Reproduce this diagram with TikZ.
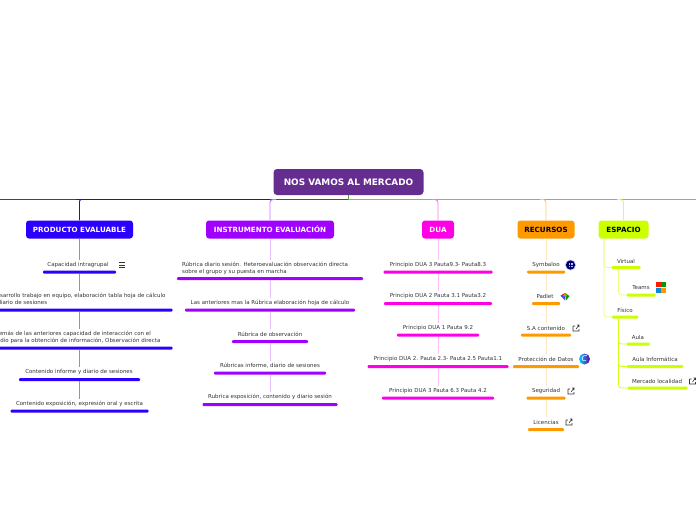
\documentclass[tikz,border=0pt]{standalone}
\usepackage{fontspec}
\setmainfont{DejaVu Sans}
\definecolor{cpurple}{HTML}{662D91}
\definecolor{cblue}{HTML}{2B00FF}
\definecolor{cviolet}{HTML}{A000FF}
\definecolor{cmag}{HTML}{FF00E6}
\definecolor{corange}{HTML}{FF9900}
\definecolor{clime}{HTML}{CCFF00}
\definecolor{ctext}{HTML}{333333}
\definecolor{ctrunkg}{HTML}{55E020}
\tikzset{
 root/.style={fill=cpurple,rounded corners=3.5pt,text=white,font=\fontsize{8.9}{10}\selectfont\bfseries,minimum width=150pt,minimum height=26pt,inner sep=0pt},
 mainbox/.style={fill=#1,rounded corners=3pt,font=\fontsize{7.15}{8}\selectfont\bfseries,minimum height=18pt,inner sep=0pt},
 lbl/.style={text=ctext,font=\fontsize{5.5}{7}\selectfont,inner sep=0pt,align=left},
 bar/.style={fill=#1,rounded corners=1pt,minimum height=3pt,inner sep=0pt},
 link/.style={draw=#1,line width=1pt,shorten >=2.5pt},
 icon/.style={draw=ctext,line width=.6pt},
}
\newcommand{\ext}[2]{\draw[icon] (#1-3,#2-2) -- (#1-3,#2+3) -- (#1+3,#2+3) -- (#1+3,#2+1) (#1-1,#2-2) -- (#1-3,#2-2) (#1,#2+1) -- (#1+3,#2-3) (#1+1,#2-3) -- (#1+3,#2-3) -- (#1+3,#2-1);}
\begin{document}
\begin{tikzpicture}[x=1pt,y=-1pt]
\useasboundingbox (0,0) rectangle (696,520);
\node[root] (R) at (348.5,182) {NOS VAMOS AL MERCADO};
\coordinate (J) at (348.5,199.5);
\node[mainbox=cblue,text=white,minimum width=107pt] (P) at (79.5,229.5) {PRODUCTO EVALUABLE};
\node[mainbox=cviolet,text=white,minimum width=128pt] (I) at (270,229.5) {INSTRUMENTO EVALUACIÓN};
\node[mainbox=cmag,text=white,minimum width=32pt] (D) at (438,229.5) {DUA};
\node[mainbox=corange,text=black,minimum width=57pt] (C) at (546,229.5) {RECURSOS};
\node[mainbox=clime,text=black,minimum width=50pt] (E) at (623.5,229.5) {ESPACIO};
\coordinate (HL) at (0,199.5);
\coordinate (HR) at (696,199.5);
% trunk
\draw[line width=.8pt,draw=cblue!80!cyan] (HL) -- (76,199.5);
\draw[line width=.8pt,draw=cblue] (76,199.5) -- (270,199.5);
\draw[line width=.8pt,draw=cviolet] (270,199.5) -- (J);
\draw[line width=.8pt,draw=ctrunkg] (J) -- (HR);
\draw[line width=1.4pt,draw=ctrunkg!80!black] (R) -- (J);
\draw[line width=.9pt,draw=cblue,rounded corners=2pt] (P) -- (79.5,199.5) -- (85,199.5);
\draw[line width=.9pt,draw=cviolet!55,rounded corners=3pt] (I) -- (270,199.5) -- (276,199.5);
\draw[line width=.9pt,draw=cmag!55,rounded corners=3pt] (D) -- (438,199.5) -- (432,199.5);
\draw[line width=.9pt,draw=corange!55,rounded corners=3pt] (C) -- (546,199.5) -- (540,199.5);
\draw[line width=.9pt,draw=clime!70,rounded corners=3pt] (E) -- (623.5,199.5) -- (617,199.5);
% producto
\def\px{79.5}
\node[lbl] (p1) at (78,265) {Capacidad intragrupal};
\node[bar=cblue,minimum width=73pt] (pb1) at (\px,272) {};
\node[lbl] (p2) at (79,299.5) {Desarrollo trabajo en equipo, elaboración tabla hoja de cálculo\\y diario de sesiones};
\node[bar=cblue,minimum width=186pt] (pb2) at (79.5,310) {};
\node[lbl] (p3) at (76,337.5) {Además de las anteriores capacidad de interacción con el\\medio para la obtención de información, Observación directa};
\node[bar=cblue,minimum width=186pt] (pb3) at (79.5,348) {};
\node[lbl] (p4) at (79,372) {Contenido  informe y diario de sesiones};
\node[bar=cblue,minimum width=121pt] (pb4) at (79.5,379.5) {};
\node[lbl] (p5) at (79.5,404) {Contenido exposición, expresión oral y escrita};
\node[bar=cblue,minimum width=138pt] (pb5) at (79.5,411) {};
\draw[link=cblue!50] (P) -- (pb1 |- p1.north);
\foreach \a/\b in {pb1/p2,pb2/p3,pb3/p4,pb4/p5}{\draw[link=cblue!50] (\a) -- (\a |- \b.north);}
\draw[icon] (119,262.5) -- (125,262.5) (119,265) -- (125,265) (119,267.5) -- (125,267.5);
% instrumento
\node[lbl] (i1) at (265,268.5) {Rúbrica diario sesión. Heteroevaluación observación directa\\sobre el grupo y su puesta en marcha};
\node[bar=cviolet,minimum width=186pt] (ib1) at (270,278.5) {};
\node[lbl] (i2) at (270,303) {Las anteriores mas la Rúbrica elaboración hoja de cálculo};
\node[bar=cviolet,minimum width=170pt] (ib2) at (270,310) {};
\node[lbl] (i3) at (270,334) {Rúbrica de observación};
\node[bar=cviolet,minimum width=76pt] (ib3) at (270,341.5) {};
\node[lbl] (i4) at (270,366) {Rúbricas informe, diario de sesiones};
\node[bar=cviolet,minimum width=112pt] (ib4) at (270,373) {};
\node[lbl] (i5) at (270,397) {Rubrica esposición, contenido y diario sesión};
\node[bar=cviolet,minimum width=135pt] (ib5) at (270,404.5) {};
\draw[link=cviolet!25] (I) -- (ib1 |- i1.north);
\foreach \a/\b in {ib1/i2,ib2/i3,ib3/i4,ib4/i5}{\draw[link=cviolet!25] (\a) -- (\a |- \b.north);}
% dua
\node[lbl] (d1) at (438,265) {Principio DUA 3 Pauta9.3- Pauta8.3};
\node[bar=cmag,minimum width=109pt] (db1) at (438,272) {};
\node[lbl] (d2) at (438,296) {Principio DUA 2 Pauta 3.1 Pauta3.2};
\node[bar=cmag,minimum width=108pt] (db2) at (438,303.5) {};
\node[lbl] (d3) at (438,328) {Principio DUA 1 Pauta 9.2};
\node[bar=cmag,minimum width=82pt] (db3) at (438,335) {};
\node[lbl] (d4) at (438,359) {Principio DUA 2. Pauta 2.3- Pauta 2.5 Pauta1.1};
\node[bar=cmag,minimum width=141pt] (db4) at (438,366.5) {};
\node[lbl] (d5) at (438,391) {Principio DUA 3  Pauta 6.3 Pauta 4.2};
\node[bar=cmag,minimum width=112pt] (db5) at (438,398) {};
\draw[link=cmag!25] (D) -- (db1 |- d1.north);
\foreach \a/\b in {db1/d2,db2/d3,db3/d4,db4/d5}{\draw[link=cmag!25] (\a) -- (\a |- \b.north);}
% recursos
\node[lbl] (c1) at (546,265) {Symbaloo};
\node[bar=corange,minimum width=38pt] (cb1) at (546,272) {};
\node[lbl] (c2) at (545,296) {Padlet};
\node[bar=corange,minimum width=28pt] (cb2) at (546,303.5) {};
\node[lbl] (c3) at (546,328) {S.A contenido};
\node[bar=corange,minimum width=50pt] (cb3) at (546,335) {};
\node[lbl] (c4) at (546,359) {Protección de Datos};
\node[bar=corange,minimum width=66pt] (cb4) at (546,366.5) {};
\node[lbl] (c5) at (546,391) {Seguridad};
\node[bar=corange,minimum width=39pt] (cb5) at (546,398) {};
\node[lbl] (c6) at (546,422) {Licencias};
\node[bar=corange,minimum width=36pt] (cb6) at (546,429.5) {};
\draw[link=corange!25] (C) -- (cb1 |- c1.north);
\foreach \a/\b in {cb1/c2,cb2/c3,cb3/c4,cb4/c5,cb5/c6}{\draw[link=corange!25] (\a) -- (\a |- \b.north);}
\ext{576}{328} \ext{571}{391} \ext{569}{422}
% symbaloo icon
\fill[blue!25!white] (570.5,265) circle (5.5pt);
\fill[blue!40!black] (570.5,265) circle (4.6pt);
\fill[blue!25!white] (568.5,263) rectangle (572.5,267);
\draw[blue!40!black,line width=.5pt] (570.5,263) -- (570.5,267) (568.5,265) -- (572.5,265);
% canva icon
\shade[left color=cyan!80!blue,right color=violet!80!blue] (584.5,359) circle (5.5pt);
\node[text=white,font=\fontsize{8}{8}\selectfont\itshape,inner sep=0pt] (canva) at (584.5,359) {C};
% padlet icon
\fill[red!80!orange] (565,293) -- (560.5,295.5) -- (564,299) -- cycle;
\fill[green!60!black] (565,293) -- (569.5,296) -- (566,300.5) -- cycle;
\fill[blue!70!white] (561,296) -- (565,296) -- (565,300.5) -- cycle;
\fill[orange] (565,293) -- (567,296) -- (563,296) -- cycle;
% espacio
\node[lbl] (e1) at (626,261) {Virtual};
\node[bar=clime,minimum width=29pt] (eb1) at (626,267.5) {};
\node[lbl] (e2) at (641,288) {Teams};
\node[bar=clime,minimum width=29pt] (eb2) at (641,295) {};
\node[lbl] (e3) at (625,310) {Físico};
\node[bar=clime,minimum width=26pt] (eb3) at (625,317) {};
\node[lbl] (e4) at (638,337) {Aula};
\node[bar=clime,minimum width=23pt] (eb4) at (638,344) {};
\node[lbl] (e5) at (655,359) {Aula Informática};
\node[bar=clime,minimum width=56pt] (eb5) at (655,366.5) {};
\node[lbl] (e6) at (657,381) {Mercado  localidad};
\node[bar=clime,minimum width=60pt] (eb6) at (657.5,388) {};
\begin{scope}[rounded corners=3pt]
\draw[draw=clime!50,line width=.8pt] (E.south -| 604,0) -- (604,267.5) -- (eb1.west);
\draw[draw=clime!50,line width=.8pt] (E.south -| 604,0) -- (604,317) -- (eb3.west);
\draw[draw=clime!50,line width=.8pt] (618.5,269) -- (618.5,295) -- (eb2.west);
\draw[draw=clime!90,line width=.8pt] (618.5,319) -- (618.5,344) -- (eb4.west);
\draw[draw=clime!90,line width=.8pt] (618.5,319) -- (618.5,366.5) -- (eb5.west);
\draw[draw=clime!90,line width=.8pt] (618.5,319) -- (618.5,388) -- (eb6.west);
\end{scope}
\fill[red!80!orange] (655.5,282) rectangle (660.5,287);
\fill[green!60!black] (661,282) rectangle (666,287);
\fill[cyan!70!blue] (655.5,287.5) rectangle (660.5,293);
\fill[orange!80!yellow] (661,287.5) rectangle (666,293);
\ext{692.5}{381}
\end{tikzpicture}
\end{document}
